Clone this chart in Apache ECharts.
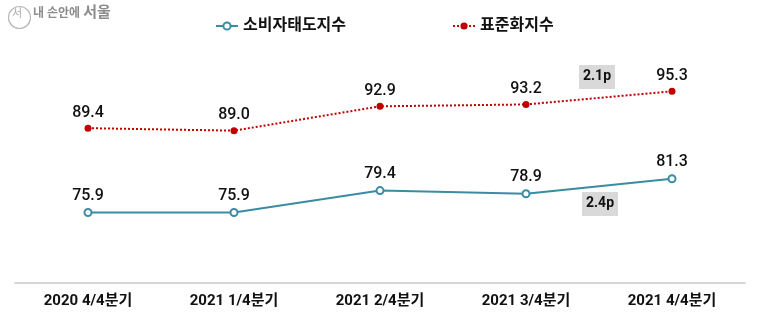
<!DOCTYPE html>
<html>
<head>
<meta charset="utf-8">
<script src="https://cdn.jsdelivr.net/npm/echarts@6/dist/echarts.min.js"></script>
<style>
  html, body { margin: 0; padding: 0; background: #fff; }
  #chart { width: 760px; height: 331px; }
</style>
</head>
<body>
<div id="chart"></div>
<script>
// Quarterly consumer attitude index vs. standardized index
const quarters = ['2020 4/4분기', '2021 1/4분기', '2021 2/4분기', '2021 3/4분기', '2021 4/4분기'];
const attitudeIndex = [75.9, 75.9, 79.4, 78.9, 81.3];
const standardIndex = [89.4, 89.0, 92.9, 93.2, 95.3];
const seriesNames = ['소비자태도지수', '표준화지수'];
const changeNotes = ['2.1p', '2.4p'];

const FONT = "Roboto, 'Noto Sans CJK KR', sans-serif";
const chart = echarts.init(document.getElementById('chart'));

const valueLabel = {
  show: true, position: 'top', distance: 4,
  formatter: p => p.value.toFixed(1),
  fontFamily: FONT, fontSize: 16, fontWeight: 500, color: '#111'
};

chart.setOption({
  backgroundColor: '#fff',
  animation: false,
  grid: { left: 15, right: 15, top: 62, bottom: 48 },
  legend: {
    top: 13,
    left: 210,
    itemGap: 106,
    itemWidth: 22,
    itemHeight: 9,
    textStyle: { fontFamily: FONT, fontSize: 16, fontWeight: 'bold', color: '#111' },
    data: seriesNames
  },
  xAxis: {
    type: 'category',
    data: quarters,
    boundaryGap: true,
    axisLine: { lineStyle: { color: '#d6d6d6', width: 2 } },
    axisTick: { show: false },
    axisLabel: {
      margin: 11,
      fontFamily: FONT, fontSize: 15, fontWeight: 'bold', color: '#111'
    }
  },
  yAxis: {
    type: 'value',
    min: 64.6,
    max: 100,
    show: false,
    splitLine: { show: false }
  },
  series: [
    {
      name: seriesNames[0],
      type: 'line',
      data: attitudeIndex,
      symbol: 'emptyCircle',
      symbolSize: 7,
      lineStyle: { color: '#3a8ca3', width: 2 },
      itemStyle: { color: '#3a8ca3', borderWidth: 2 },
      label: valueLabel
    },
    {
      name: seriesNames[1],
      type: 'line',
      data: standardIndex,
      symbol: 'circle',
      symbolSize: 7,
      lineStyle: { color: '#c00000', width: 2, type: [2, 2] },
      itemStyle: { color: '#c00000' },
      label: valueLabel
    }
  ],
  graphic: [
    // brand mark in the top-left corner
    {
      type: 'circle', left: 6, top: 4, shape: { r: 11 },
      style: { fill: 'none', stroke: '#b8b8b8', lineWidth: 1.2 }
    },
    {
      type: 'text', left: 12, top: 9,
      style: { text: '서', fontFamily: FONT, fontSize: 11, fill: '#aaa' }
    },
    {
      type: 'text', left: 33, top: 6,
      style: {
        text: '{s|내 손안에 }{b|서울}',
        rich: {
          s: { fontFamily: FONT, fontSize: 12, fontWeight: 'bold', fill: '#8c8c8c', color: '#8c8c8c' },
          b: { fontFamily: FONT, fontSize: 15, fontWeight: 'bold', fill: '#8c8c8c', color: '#8c8c8c' }
        }
      }
    },
    // change annotations
    {
      type: 'text', left: 579, top: 65,
      style: {
        text: changeNotes[0], fontFamily: FONT, fontSize: 14, fontWeight: 'bold', fill: '#111',
        backgroundColor: '#d9d9d9', padding: [5, 4, 5, 4]
      }
    },
    {
      type: 'text', left: 582, top: 192,
      style: {
        text: changeNotes[1], fontFamily: FONT, fontSize: 14, fontWeight: 'bold', fill: '#111',
        backgroundColor: '#d9d9d9', padding: [5, 4, 5, 4]
      }
    }
  ]
});
</script>
</body>
</html>
